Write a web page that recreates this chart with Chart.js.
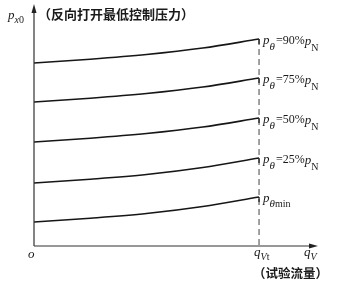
<!DOCTYPE html>
<html>
<head>
<meta charset="utf-8">
<script src="https://cdn.jsdelivr.net/npm/chart.js@4.4.0/dist/chart.umd.min.js"></script>
<style>
	body { margin: 0; background: #fff; }
	#wrap { width: 339px; height: 290px; }
</style>
</head>
<body>
<div id="wrap"><canvas id="valveChart" width="339" height="290"></canvas></div>
<script>
// flow qV, relative to test flow qVt (qVt = 1)
const flow = [0, 0.25, 0.5, 0.75, 1];
// minimum reverse opening control pressure px0 (arbitrary units)
const p90 = [183, 186.8, 191.5, 198, 207];
const p75 = [144, 147.8, 152.5, 159, 168];
const p50 = [104, 107.8, 112.5, 119, 128];
const p25 = [63, 66.8, 71.5, 78.5, 88];
const pMin = [24, 27.8, 32.5, 39.5, 49];
const curveLabels = ['90%', '75%', '50%', '25%', 'min'];
const testFlow = 1;

const serif = '"Liberation Serif", "DejaVu Serif", serif';
const cjk = '"Noto Sans CJK SC", sans-serif';

function makeSet(vals) {
	return {
		data: flow.map((x, i) => ({x: x, y: vals[i]})),
		borderColor: '#161616',
		borderWidth: 1.6,
		pointRadius: 0,
		fill: false,
		cubicInterpolationMode: 'monotone'
	};
}

function txt(ctx, s, x, y, font) {
	ctx.font = font;
	ctx.fillText(s, x, y);
	return x + ctx.measureText(s).width;
}

// axes with arrows, dashed test flow line and all the labels
const sketchPlugin = {
	id: 'sketch',
	afterDraw(chart) {
		const ctx = chart.ctx;
		const xs = chart.scales.x;
		const ys = chart.scales.y;
		const x0 = xs.getPixelForValue(0);
		const y0 = ys.getPixelForValue(0);
		const xEnd = xs.right;
		const yTop = ys.top;
		ctx.save();
		ctx.strokeStyle = '#333';
		ctx.fillStyle = '#222';
		ctx.lineWidth = 1.2;
		ctx.beginPath();
		ctx.moveTo(x0, y0);
		ctx.lineTo(x0, yTop + 6);
		ctx.moveTo(x0, y0);
		ctx.lineTo(xEnd - 6, y0);
		ctx.stroke();
		// arrow heads
		ctx.beginPath();
		ctx.moveTo(x0, yTop);
		ctx.lineTo(x0 - 2.5, yTop + 9);
		ctx.lineTo(x0 + 2.5, yTop + 9);
		ctx.closePath();
		ctx.fill();
		ctx.beginPath();
		ctx.moveTo(xEnd, y0);
		ctx.lineTo(xEnd - 9, y0 - 2.5);
		ctx.lineTo(xEnd - 9, y0 + 2.5);
		ctx.closePath();
		ctx.fill();

		// dashed line at qVt
		const xt = xs.getPixelForValue(testFlow);
		ctx.strokeStyle = '#444';
		ctx.lineWidth = 1;
		ctx.setLineDash([6, 4]);
		ctx.beginPath();
		ctx.moveTo(xt, ys.getPixelForValue(p90[p90.length - 1]));
		ctx.lineTo(xt, y0);
		ctx.stroke();
		ctx.setLineDash([]);

		// small ticks below curve ends + right labels
		ctx.fillStyle = '#1a1a1a';
		chart.data.datasets.forEach((ds, i) => {
			const last = ds.data[ds.data.length - 1];
			const ye = ys.getPixelForValue(last.y);
			ctx.strokeStyle = '#161616';
			ctx.lineWidth = 1.2;
			ctx.beginPath();
			ctx.moveTo(xt, ye);
			ctx.lineTo(xt, ye + 5);
			ctx.stroke();
			let lx = xt + 4;
			lx = txt(ctx, 'p', lx, ye + 5, 'italic 13px ' + serif);
			if (curveLabels[i] === 'min') {
				lx = txt(ctx, 'θ', lx, ye + 10, 'italic 11px ' + serif);
				txt(ctx, 'min', lx, ye + 10, '10px ' + serif);
			} else {
				lx = txt(ctx, 'θ', lx, ye + 11, 'italic 11px ' + serif);
				lx = txt(ctx, '=' + curveLabels[i], lx + 1, ye + 5, '12px ' + serif);
				lx = txt(ctx, 'p', lx, ye + 6, 'italic 13px ' + serif);
				txt(ctx, 'N', lx, ye + 12, '10px ' + serif);
			}
		});

		// y axis title
		let tx = txt(ctx, 'p', 8, 19, 'italic 13px ' + serif);
		tx = txt(ctx, 'x', tx, 23, 'italic 10px ' + serif);
		txt(ctx, '0', tx, 23, '10px ' + serif);
		txt(ctx, '（反向打开最低控制压力）', 38, 19, 'bold 13px ' + cjk);

		// x axis labels
		txt(ctx, 'o', 28, 258, 'italic 13px ' + serif);
		tx = txt(ctx, 'q', xt - 5, 256, 'italic 13px ' + serif);
		tx = txt(ctx, 'V', tx, 260, 'italic 10px ' + serif);
		txt(ctx, 't', tx, 260, '10px ' + serif);
		tx = txt(ctx, 'q', 304, 256, 'italic 13px ' + serif);
		txt(ctx, 'V', tx, 260, 'italic 10px ' + serif);
		txt(ctx, '（试验流量）', 253, 278, 'bold 12.5px ' + cjk);
		ctx.restore();
	}
};

new Chart(document.getElementById('valveChart'), {
	type: 'line',
	data: {
		datasets: [makeSet(p90), makeSet(p75), makeSet(p50), makeSet(p25), makeSet(pMin)]
	},
	options: {
		responsive: false,
		animation: false,
		layout: { padding: { left: 34, right: 21, top: 4, bottom: 44 } },
		plugins: { legend: { display: false }, tooltip: { enabled: false } },
		scales: {
			x: { type: 'linear', min: 0, max: 1.262, display: false },
			y: { min: 0, max: 242, display: false }
		}
	},
	plugins: [sketchPlugin]
});
</script>
</body>
</html>
